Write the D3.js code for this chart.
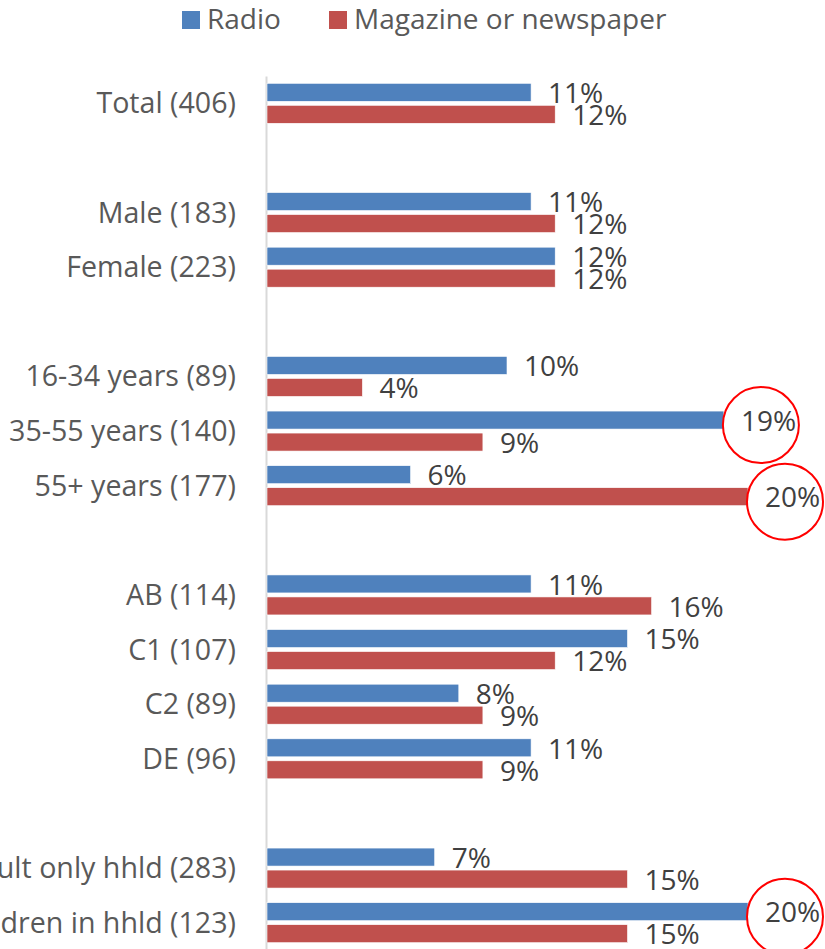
<!DOCTYPE html>
<html>
<head>
<meta charset="utf-8">
<script src="https://cdn.jsdelivr.net/npm/d3@7"></script>
<style>
  html, body { margin: 0; padding: 0; background: #fff; }
  svg { display: block; font-family: "Open Sans", sans-serif; }
</style>
</head>
<body>
<svg id="chart" width="825" height="949"></svg>
<script>
// Respondent groups (base sizes in brackets) and the share citing each medium, in %
const categories = [
  "Total (406)",
  "Male (183)", "Female (223)",
  "16-34 years (89)", "35-55 years (140)", "55+ years (177)",
  "AB (114)", "C1 (107)", "C2 (89)", "DE (96)",
  "Adult only hhld (283)", "Children in hhld (123)"
];
// index of the first category of each new group (a blank row goes before it)
const groupStarts = [1, 3, 6, 10];
const radio    = [11, 11, 12, 10, 19, 6, 11, 15, 8, 11, 7, 20];
const magazine = [12, 12, 12, 4, 9, 20, 16, 12, 9, 9, 15, 15];
const seriesNames = ["Radio", "Magazine or newspaper"];
// highlighted results: [category index, series index]
const highlights = [[4, 0], [5, 1], [11, 0]];

const colors = ["#4F81BD", "#C0504D"];
const series = [radio, magazine];

const svg = d3.select("#chart");

// Row slots, with a blank spacer row between groups
const rows = [];
categories.forEach((c, i) => {
  if (groupStarts.includes(i)) rows.push("__gap" + i);
  rows.push(c);
});
const isGap = d => d.startsWith("__gap");

const y = d3.scaleBand().domain(rows).range([76, 950]);
const x = d3.scaleLinear().domain([0, 20]).range([266, 748]);

// Category axis
const axis = svg.append("g")
  .attr("transform", `translate(${x(0)},0)`)
  .call(d3.axisLeft(y).tickSize(0).tickPadding(30).tickFormat(d => isGap(d) ? "" : d));
axis.select(".domain").attr("stroke", "#d9d9d9").attr("stroke-width", 2);
axis.selectAll("text")
  .attr("fill", "#595959")
  .style("font-size", "28.6px")
  .style("font-family", "'Open Sans', sans-serif")
  .attr("dy", "0.35em");

const barH = 18;
const offsets = [-20, 2];

series.forEach((vals, s) => {
  const g = svg.append("g");
  g.selectAll("rect")
    .data(categories)
    .join("rect")
    .attr("x", x(0) + 1)
    .attr("y", (c) => y(c) + y.bandwidth() / 2 + offsets[s])
    .attr("width", (c, i) => x(vals[i]) - x(0) - 1)
    .attr("height", barH)
    .attr("fill", colors[s])
    .attr("stroke", "#fff")
    .attr("stroke-width", 0.6);

  g.selectAll("text")
    .data(categories)
    .join("text")
    .attr("x", (c, i) => x(vals[i]) + 17)
    .attr("y", (c) => y(c) + y.bandwidth() / 2 + offsets[s] + barH / 2 + 1)
    .attr("dy", "0.35em")
    .attr("fill", "#404040")
    .style("font-size", "28px")
    .text((c, i) => vals[i] + "%");
});

// Circles drawn around the highlighted value labels
svg.append("g")
  .selectAll("circle")
  .data(highlights)
  .join("circle")
  .attr("cx", d => x(series[d[1]][d[0]]) + 37)
  .attr("cy", d => y(categories[d[0]]) + y.bandwidth() / 2 + offsets[d[1]] + barH / 2 + 5)
  .attr("r", 38)
  .attr("fill", "none")
  .attr("stroke", "#FF0000")
  .attr("stroke-width", 2);

// Legend
const legend = svg.append("g");
const legendX = [182, 329];
seriesNames.forEach((name, s) => {
  legend.append("rect")
    .attr("x", legendX[s]).attr("y", 11)
    .attr("width", 18).attr("height", 18)
    .attr("fill", colors[s]);
  legend.append("text")
    .attr("x", legendX[s] + 25).attr("y", 29)
    .attr("fill", "#595959")
    .style("font-size", "28px")
    .text(name);
});
</script>
</body>
</html>
